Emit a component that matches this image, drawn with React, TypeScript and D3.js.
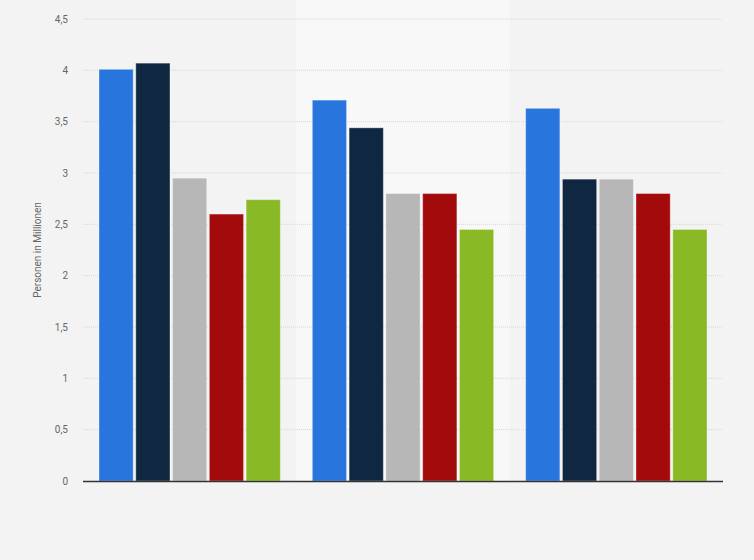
import React from 'react'
import * as d3 from 'd3'

const groups = ['A', 'B', 'C']
const series = ['s1', 's2', 's3', 's4', 's5']
const colors = ['#2876dd', '#0f2740', '#b7b7b7', '#a20a0b', '#89b925']
const values = [
  [4.01, 4.07, 2.95, 2.6, 2.74],
  [3.71, 3.44, 2.8, 2.8, 2.45],
  [3.63, 2.94, 2.94, 2.8, 2.45],
]
const yTicks = [0, 0.5, 1, 1.5, 2, 2.5, 3, 3.5, 4, 4.5]

const W = 754, H = 560
const left = 83, right = 723, top = 19, bottom = 481

export default function App() {
  const x0 = d3.scaleBand().domain(groups).range([left, right]).paddingInner(0.15).paddingOuter(0.075)
  const x1 = d3.scaleBand().domain(series).range([0, x0.bandwidth()]).paddingInner(0.07)
  const y = d3.scaleLinear().domain([0, 4.5]).range([bottom, top])
  const fmt = (v: number) => String(v).replace('.', ',')
  const step = (right - left) / groups.length

  return (
    <svg width={W} height={H} style={{ position: 'absolute', left: 0, top: 0, fontFamily: 'Roboto, Arial, sans-serif' }}>
      <rect x={0} y={0} width={W} height={H} fill="#f3f3f3" />
      <rect x={left + step} y={0} width={step} height={bottom} fill="#f8f8f8" />
      {yTicks.map(t => (
        <g key={t}>
          {t > 0 && (
            <line x1={left} x2={right} y1={y(t)} y2={y(t)} stroke="#d6d6d6" strokeDasharray="1,1" />
          )}
          <text x={68} y={y(t)} dy="0.35em" textAnchor="end" fontSize={10} fill="#666">{fmt(t)}</text>
        </g>
      ))}
      <text transform={`translate(41,${(top + bottom) / 2}) rotate(-90)`} textAnchor="middle" fontSize={10} fill="#666">
        Personen in Millionen
      </text>
      {groups.map((g, gi) => (
        <g key={g} transform={`translate(${x0(g)},0)`}>
          {series.map((s, si) => (
            <rect key={s} x={x1(s)} y={y(values[gi][si])} width={x1.bandwidth()}
              height={bottom - y(values[gi][si])} fill={colors[si]} stroke="#ffffff" strokeOpacity={0.35} strokeWidth={1} />
          ))}
        </g>
      ))}
      <line x1={left} x2={right} y1={bottom + 0.5} y2={bottom + 0.5} stroke="#333" strokeWidth={1.5} />
    </svg>
  )
}
